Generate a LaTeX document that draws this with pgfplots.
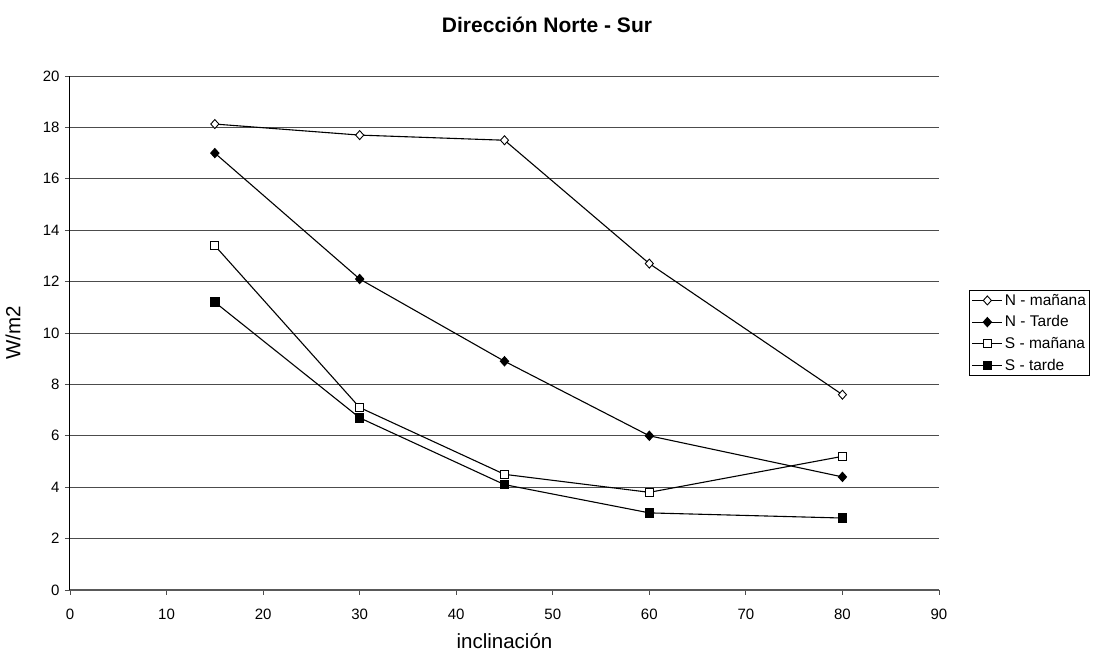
\documentclass[border=0pt]{standalone}
\usepackage{pgfplots}
\pgfplotsset{compat=1.18}
\usepackage{fontspec}
\setmainfont{Liberation Sans}
\begin{document}
\begin{tikzpicture}
\path[use as bounding box] (-70pt,-65pt) rectangle (1026pt,590pt);
\begin{axis}[
  at={(0pt,0pt)}, anchor=south west,
  scale only axis, width=869pt, height=514pt,
  xmin=0, xmax=90, ymin=0, ymax=20,
  xtick={0,10,...,90}, ytick={0,2,...,20},
  axis x line*=bottom, axis y line*=left,
  x axis line style={-, draw=black!65, line width=1.2pt},
  y axis line style={-, draw=black, line width=1pt},
  tick align=outside, major tick length=5pt,
  tick style={black!70, line width=0.8pt},
  ymajorgrids, grid style={black!70, line width=0.9pt},
  /pgf/number format/assume math mode=true,
  ticklabel style={font=\fontsize{15pt}{17pt}\selectfont},
  xticklabel style={yshift=-10pt},
  yticklabel style={xshift=-2pt},
  xlabel={inclinación}, ylabel={W/m2},
  label style={font=\fontsize{20.5pt}{24pt}\selectfont},
  xlabel style={at={(axis description cs:0.5,-0.1)}, anchor=center},
  ylabel style={at={(axis description cs:-0.0656,0.5)}, anchor=center},
  legend style={at={(axis description cs:1.035,0.5)}, anchor=west, draw=black, line width=0.8pt,
    font=\fontsize{15.5pt}{18pt}\selectfont, inner sep=2pt, row sep=5pt},
  legend cell align=left,
  legend image code/.code={\draw[mark repeat=2,mark phase=2] plot coordinates {(0pt,0pt) (15pt,0pt) (30pt,0pt)};},
  every axis plot/.append style={line width=1.1pt, black},
]
\addplot[mark=diamond*, mark options={fill=white, line width=0.9pt, xscale=1.2}, mark size=4.5pt] coordinates {(15,18.13) (30,17.7) (45,17.5) (60,12.7) (80,7.6)};
\addlegendentry{N - mañana}
\addplot[mark=diamond*, mark options={fill=black, xscale=1.2}, mark size=4.5pt] coordinates {(15,17.0) (30,12.1) (45,8.9) (60,6.0) (80,4.4)};
\addlegendentry{N - Tarde}
\addplot[mark=square*, mark options={fill=white, line width=0.9pt}, mark size=4pt] coordinates {(15,13.4) (30,7.1) (45,4.5) (60,3.8) (80,5.2)};
\addlegendentry{S - mañana}
\addplot[mark=square*, mark options={fill=black}, mark size=4.2pt] coordinates {(15,11.2) (30,6.7) (45,4.1) (60,3.0) (80,2.8)};
\addlegendentry{S - tarde}
\end{axis}
\node[font=\bfseries\fontsize{21pt}{25pt}\selectfont] at (477pt,565pt) {Dirección Norte - Sur};
\end{tikzpicture}
\end{document}
